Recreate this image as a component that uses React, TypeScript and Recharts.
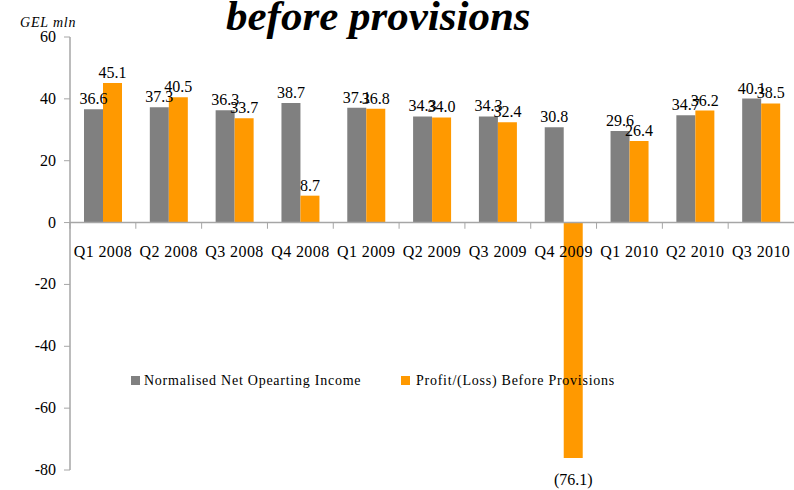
import React from 'react';
import { BarChart, Bar, XAxis, YAxis, LabelList, ReferenceLine, ReferenceDot } from 'recharts';

const categories = ['Q1 2008', 'Q2 2008', 'Q3 2008', 'Q4 2008', 'Q1 2009', 'Q2 2009', 'Q3 2009', 'Q4 2009', 'Q1 2010', 'Q2 2010', 'Q3 2010'];
const netOperatingIncome = [36.6, 37.3, 36.3, 38.7, 37.1, 34.3, 34.3, 30.8, 29.6, 34.7, 40.1];
const profitBeforeProvisions = [45.1, 40.5, 33.7, 8.7, 36.8, 34.0, 32.4, -76.1, 26.4, 36.2, 38.5];
const yTicks = [-80, -60, -40, -20, 0, 20, 40, 60];
const seriesNames = ['Normalised Net Opearting Income', 'Profit/(Loss) Before Provisions'];
const titleText = 'before provisions';
const unitText = 'GEL mln';

const GRAY = '#808080';
const ORANGE = '#FF9900';
const AXIS = '#a6a6a6';
const FONT = '"Liberation Serif", "Times New Roman", serif';
const serif = { fontFamily: FONT };

const data = categories.map((q, i) => ({ q, nnoi: netOperatingIncome[i], profit: profitBeforeProvisions[i] }));

const fmt = (v: number) => (v < 0 ? `(${Math.abs(v).toFixed(1)})` : v.toFixed(1));

const BarValueLabel = (props: any) => {
  const vb = props.viewBox || {};
  const x = props.x ?? vb.x;
  const y = props.y ?? vb.y;
  const width = props.width ?? vb.width;
  const height = props.height ?? vb.height;
  const value = Number(props.value);
  if (x == null || y == null) return null;
  const top = Math.min(y, y + height);
  const bottom = Math.max(y, y + height);
  const cx = x + width / 2;
  const ty = value < 0 ? bottom + 27 : top - 5;
  return (
    <text x={cx} y={ty} textAnchor="middle" fontSize={16} style={serif} fill="#000">
      {fmt(value)}
    </text>
  );
};

const YTick = (props: any) => {
  const { x, y, payload } = props;
  return (
    <text x={x} y={y} dy={5} textAnchor="end" fontSize={16} style={serif} fill="#000">
      {payload.value}
    </text>
  );
};

const CatLabel = (props: any) => {
  const vb = props.viewBox || {};
  const x = vb.x ?? props.x;
  const y = vb.y ?? props.y;
  if (x == null || y == null) return null;
  return (
    <text x={x + (vb.width || 0) / 2} y={y + 34} textAnchor="middle" fontSize={16} style={{ ...serif, letterSpacing: 0.4 }} fill="#000">
      {props.text}
    </text>
  );
};

export default function App() {
  return (
    <div style={{ position: 'absolute', left: 0, top: 0, width: 794, height: 490, background: '#fff' }}>
      <BarChart
        width={794}
        height={490}
        data={data}
        margin={{ top: 37, right: 0, left: 0, bottom: 20 }}
        barCategoryGap={14}
        barGap={0}
      >
        <XAxis dataKey="q" hide />
        <YAxis
          type="number"
          domain={[-80, 60]}
          ticks={yTicks}
          width={70}
          interval={0}
          tickSize={6}
          tickMargin={8}
          axisLine={{ stroke: AXIS, strokeWidth: 1.5 }}
          tickLine={{ stroke: AXIS }}
          tick={<YTick />}
        />
        <ReferenceLine y={0} stroke={AXIS} strokeWidth={1.5} />
        {categories.map((c) => (
          <ReferenceLine
            key={`t-${c}`}
            segment={[{ x: c, y: 0 }, { x: c, y: -2 }]}
            position="start"
            stroke={AXIS}
          />
        ))}
        {categories.map((c) => (
          <ReferenceDot
            key={`l-${c}`}
            x={c}
            y={0}
            r={0}
            fill="none"
            stroke="none"
            label={<CatLabel text={c} />}
          />
        ))}
        <Bar dataKey="nnoi" name={seriesNames[0]} fill={GRAY} isAnimationActive={false}>
          <LabelList dataKey="nnoi" content={BarValueLabel} />
        </Bar>
        <Bar dataKey="profit" name={seriesNames[1]} fill={ORANGE} isAnimationActive={false}>
          <LabelList dataKey="profit" content={BarValueLabel} />
        </Bar>
      </BarChart>
      <svg width={794} height={490} style={{ position: 'absolute', left: 0, top: 0, pointerEvents: 'none' }}>
        <text x={226} y={30} fontSize={43} fontWeight="bold" fontStyle="italic" style={serif} fill="#000">
          {titleText}
        </text>
        <text x={20} y={27} fontSize={14} fontStyle="italic" style={{ ...serif, letterSpacing: 0.8 }} fill="#000">
          {unitText}
        </text>
        <rect x={131} y={376} width={9} height={9} fill={GRAY} />
        <text x={144} y={385} fontSize={14} style={{ ...serif, letterSpacing: 0.75 }} fill="#000">
          {seriesNames[0]}
        </text>
        <rect x={401} y={376} width={9} height={9} fill={ORANGE} />
        <text x={416} y={385} fontSize={14} style={{ ...serif, letterSpacing: 0.75 }} fill="#000">
          {seriesNames[1]}
        </text>
      </svg>
    </div>
  );
}
